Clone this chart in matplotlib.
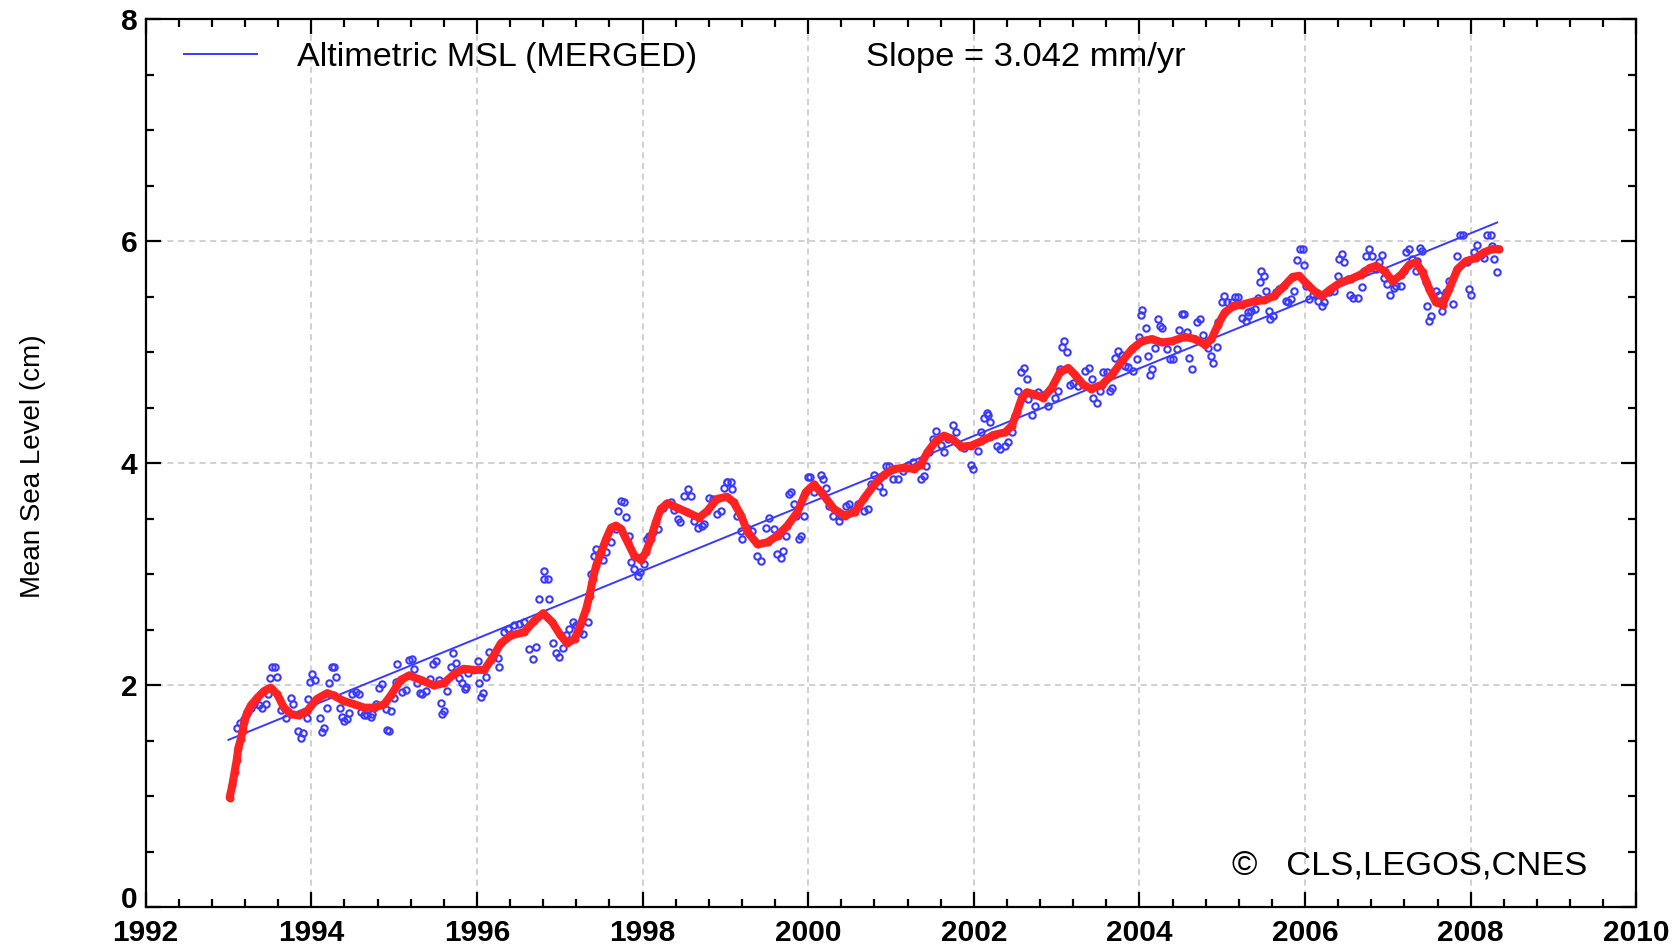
import numpy as np
import matplotlib
matplotlib.use("Agg")
import matplotlib.pyplot as plt
from matplotlib.lines import Line2D
from matplotlib.ticker import MultipleLocator
from matplotlib.transforms import ScaledTranslation

plt.rcParams['font.family'] = ['Liberation Sans', 'DejaVu Sans']

# -----------------------------
# DADOS
# -----------------------------

# pontos azuis (MSL altimétrico, ~ciclos de 10 dias)
blue_t = [
    1993.10, 1993.14, 1993.187, 1993.207, 1993.227, 1993.267, 1993.308, 1993.368, 1993.408, 1993.448,
    1993.477, 1993.497, 1993.529, 1993.561, 1993.581, 1993.638, 1993.69, 1993.758, 1993.783, 1993.843,
    1993.871, 1993.903, 1993.952, 1993.964, 1993.984, 1994.012, 1994.044,
    1994.105, 1994.133, 1994.153, 1994.185, 1994.213, 1994.254, 1994.274, 1994.294, 1994.346, 1994.374,
    1994.395, 1994.427, 1994.455, 1994.495, 1994.535, 1994.576, 1994.596, 1994.636, 1994.676, 1994.717,
    1994.737, 1994.777, 1994.817, 1994.858, 1994.898, 1994.918, 1994.938, 1994.958, 1994.998,
    1995.019, 1995.039, 1995.099, 1995.139, 1995.180, 1995.220, 1995.240, 1995.280, 1995.312, 1995.341,
    1995.381, 1995.433, 1995.473, 1995.502, 1995.542, 1995.562, 1995.582, 1995.602, 1995.643, 1995.683,
    1995.715, 1995.743, 1995.783, 1995.824, 1995.852, 1995.867, 1995.887,
    1996.008, 1996.028, 1996.048, 1996.068, 1996.109, 1996.149, 1996.189, 1996.249, 1996.27, 1996.33,
    1996.37, 1996.41, 1996.451, 1996.511, 1996.571, 1996.632, 1996.672, 1996.712, 1996.753, 1996.805,
    1996.813, 1996.853, 1996.873, 1996.913, 1996.954, 1996.994,
    1997.034, 1997.074, 1997.115, 1997.155, 1997.195, 1997.235, 1997.276, 1997.336, 1997.376, 1997.408,
    1997.437, 1997.477, 1997.517, 1997.557, 1997.618, 1997.678, 1997.706, 1997.738, 1997.771, 1997.799,
    1997.839, 1997.859, 1997.899, 1997.940, 1997.972,
    1998.02, 1998.052, 1998.08, 1998.121, 1998.181, 1998.241, 1998.282, 1998.342, 1998.382, 1998.423,
    1998.455, 1998.503, 1998.543, 1998.583, 1998.624, 1998.664, 1998.712, 1998.744, 1998.805, 1998.845,
    1998.905, 1998.946, 1998.986,
    1999.018, 1999.024, 1999.065, 1999.085, 1999.145, 1999.185, 1999.206, 1999.266, 1999.327, 1999.387,
    1999.427, 1999.488, 1999.528, 1999.589, 1999.629, 1999.669, 1999.702, 1999.73, 1999.77, 1999.79,
    1999.831, 1999.851, 1999.891, 1999.911, 1999.944, 1999.992,
    2000.024, 2000.073, 2000.153, 2000.173, 2000.214, 2000.254, 2000.294, 2000.375, 2000.395, 2000.456,
    2000.496, 2000.536, 2000.597, 2000.677, 2000.718, 2000.758, 2000.798, 2000.859, 2000.899, 2000.940,
    2000.980,
    2001.02, 2001.081, 2001.141, 2001.202, 2001.262, 2001.302, 2001.363, 2001.403, 2001.423, 2001.464,
    2001.504, 2001.544, 2001.605, 2001.645, 2001.685, 2001.746, 2001.786, 2001.847, 2001.887, 2001.968,
    2001.988,
    2002.048, 2002.089, 2002.129, 2002.156, 2002.169, 2002.196, 2002.217, 2002.277, 2002.317, 2002.378,
    2002.418, 2002.458, 2002.498, 2002.539, 2002.571, 2002.611, 2002.639, 2002.659, 2002.700, 2002.740,
    2002.780, 2002.841, 2002.901, 2002.981,
    2003.022, 2003.042, 2003.062, 2003.094, 2003.122, 2003.163, 2003.203, 2003.263, 2003.344, 2003.392,
    2003.424, 2003.444, 2003.485, 2003.525, 2003.565, 2003.605, 2003.646, 2003.666, 2003.706, 2003.738,
    2003.787, 2003.827, 2003.867, 2003.928, 2003.968, 2003.996,
    2004.016, 2004.036, 2004.076, 2004.109, 2004.129, 2004.149, 2004.189, 2004.221, 2004.25, 2004.27,
    2004.33, 2004.37, 2004.411, 2004.451, 2004.479, 2004.519, 2004.543, 2004.572, 2004.60, 2004.632,
    2004.692, 2004.733, 2004.773, 2004.825, 2004.866, 2004.894, 2004.934, 2004.954,
    2005.002, 2005.023, 2005.063, 2005.115, 2005.155, 2005.188, 2005.236, 2005.284, 2005.309, 2005.316,
    2005.349, 2005.390, 2005.43, 2005.45, 2005.47, 2005.502, 2005.53, 2005.57, 2005.582, 2005.61,
    2005.651, 2005.691, 2005.711, 2005.771, 2005.791, 2005.831, 2005.863, 2005.904, 2005.944, 2005.972,
    2005.992,
    2006.012, 2006.052, 2006.092, 2006.153, 2006.201, 2006.233, 2006.293, 2006.345, 2006.394, 2006.414,
    2006.442, 2006.474, 2006.514, 2006.546, 2006.574, 2006.635, 2006.683, 2006.715, 2006.735, 2006.775,
    2006.807, 2006.855, 2006.896, 2006.924, 2006.956, 2006.988,
    2007.028, 2007.068, 2007.096, 2007.157, 2007.189, 2007.217, 2007.257, 2007.297, 2007.337, 2007.357,
    2007.39, 2007.418, 2007.458, 2007.478, 2007.498, 2007.526, 2007.578, 2007.618, 2007.659, 2007.699,
    2007.739, 2007.791, 2007.839, 2007.871, 2007.912, 2007.952, 2007.98,
    2008.0, 2008.04, 2008.08, 2008.12, 2008.161, 2008.201, 2008.241, 2008.261, 2008.281, 2008.321,
]
blue_v = [
    1.62, 1.66, 1.70, 1.73, 1.76, 1.80, 1.83, 1.82, 1.80, 1.83,
    1.92, 2.07, 2.17, 2.17, 2.08, 1.78, 1.71, 1.89, 1.83, 1.59,
    1.53, 1.57, 1.71, 1.88, 2.03, 2.10, 2.05,
    1.71, 1.58, 1.62, 1.80, 2.02, 2.17, 2.17, 2.08, 1.80, 1.72,
    1.68, 1.70, 1.75, 1.92, 1.94, 1.92, 1.76, 1.73, 1.73, 1.72,
    1.74, 1.83, 1.98, 2.01, 1.79, 1.60, 1.59, 1.77, 1.89,
    2.03, 2.19, 1.94, 1.96, 2.23, 2.24, 2.15, 2.02, 1.93, 1.92,
    1.95, 2.06, 2.19, 2.22, 2.05, 1.84, 1.74, 1.77, 1.95, 2.17,
    2.29, 2.20, 2.07, 2.02, 1.97, 1.99, 2.11,
    2.22, 2.02, 1.90, 1.93, 2.08, 2.30, 2.26, 2.25, 2.17, 2.48,
    2.51, 2.46, 2.54, 2.55, 2.57, 2.33, 2.24, 2.35, 2.78, 2.96,
    3.03, 2.96, 2.78, 2.38, 2.29, 2.26,
    2.34, 2.45, 2.51, 2.57, 2.54, 2.48, 2.46, 2.57, 3.00, 3.17,
    3.23, 3.18, 3.13, 3.20, 3.29, 3.41, 3.57, 3.66, 3.65, 3.52,
    3.35, 3.11, 3.05, 2.99, 3.02,
    3.09, 3.32, 3.35, 3.38, 3.41, 3.60, 3.63, 3.65, 3.58, 3.50,
    3.47, 3.71, 3.77, 3.71, 3.48, 3.42, 3.44, 3.45, 3.69, 3.68,
    3.54, 3.57, 3.78,
    3.83, 3.83, 3.83, 3.77, 3.53, 3.39, 3.32, 3.42, 3.39, 3.17,
    3.12, 3.42, 3.51, 3.41, 3.18, 3.15, 3.21, 3.35, 3.72, 3.74,
    3.63, 3.53, 3.32, 3.35, 3.53, 3.88,
    3.88, 3.74, 3.90, 3.86, 3.78, 3.62, 3.53, 3.48, 3.53, 3.62,
    3.63, 3.57, 3.63, 3.57, 3.59, 3.81, 3.90, 3.80, 3.74, 3.98,
    3.98,
    3.86, 3.86, 3.93, 3.99, 4.01, 3.98, 3.86, 3.89, 3.98, 4.10,
    4.22, 4.29, 4.17, 4.10, 4.22, 4.35, 4.28, 4.16, 4.14, 3.99,
    3.95,
    4.11, 4.28, 4.41, 4.45, 4.44, 4.37, 4.26, 4.16, 4.13, 4.16,
    4.19, 4.28, 4.43, 4.65, 4.82, 4.86, 4.76, 4.58, 4.44, 4.52,
    4.64, 4.62, 4.52, 4.59,
    4.65, 4.85, 5.05, 5.10, 5.00, 4.71, 4.72, 4.70, 4.83, 4.86,
    4.76, 4.59, 4.54, 4.65, 4.82, 4.82, 4.65, 4.68, 4.95, 5.01,
    4.98, 4.88, 4.87, 4.83, 4.94, 5.14,
    5.34, 5.38, 5.22, 4.97, 4.80, 4.85, 5.04, 5.30, 5.24, 5.22,
    5.03, 4.94, 4.94, 5.03, 5.20, 5.35, 5.35, 5.18, 4.95, 4.85,
    5.27, 5.30, 5.16, 5.04, 4.97, 4.90, 5.05, 5.27,
    5.45, 5.51, 5.45, 5.45, 5.50, 5.50, 5.31, 5.28, 5.36, 5.33,
    5.37, 5.39, 5.49, 5.63, 5.73, 5.69, 5.55, 5.37, 5.30, 5.33,
    5.54, 5.57, 5.58, 5.46, 5.45, 5.48, 5.55, 5.83, 5.93, 5.93,
    5.79,
    5.60, 5.48, 5.52, 5.46, 5.42, 5.45, 5.54, 5.55, 5.69, 5.84,
    5.89, 5.81, 5.66, 5.52, 5.49, 5.49, 5.59, 5.73, 5.87, 5.93,
    5.87, 5.75, 5.81, 5.88, 5.67, 5.62,
    5.52, 5.58, 5.60, 5.60, 5.73, 5.90, 5.93, 5.84, 5.73, 5.82,
    5.94, 5.91, 5.63, 5.42, 5.28, 5.33, 5.55, 5.52, 5.37, 5.54,
    5.64, 5.44, 5.87, 6.06, 6.06, 5.81, 5.57,
    5.52, 5.90, 5.97, 5.88, 5.85, 6.06, 6.06, 5.96, 5.84, 5.72,
]

# curva suavizada (vermelha)
red_t = [
    1993.014, 1993.046, 1993.074, 1993.10, 1993.12, 1993.15, 1993.17, 1993.19, 1993.23, 1993.27,
    1993.35, 1993.43, 1993.51, 1993.59, 1993.67, 1993.76, 1993.85, 1993.95,
    1994.07, 1994.19, 1994.27, 1994.39, 1994.52, 1994.64, 1994.76, 1994.88, 1994.96,
    1995.08, 1995.18, 1995.32, 1995.48, 1995.60, 1995.72, 1995.84, 1995.97,
    1996.09, 1996.17, 1996.29, 1996.41, 1996.57, 1996.69, 1996.80, 1996.91,
    1997.01, 1997.09, 1997.18, 1997.25, 1997.32, 1997.36, 1997.40, 1997.44, 1997.50, 1997.56,
    1997.62, 1997.68, 1997.74, 1997.82, 1997.90, 1997.98,
    1998.04, 1998.10, 1998.16, 1998.22, 1998.30, 1998.42, 1998.54, 1998.68, 1998.78, 1998.90,
    1999.02, 1999.10, 1999.19, 1999.27, 1999.39, 1999.51, 1999.63, 1999.75, 1999.87, 1999.97,
    2000.07, 2000.19, 2000.31, 2000.44, 2000.56, 2000.68, 2000.80, 2000.92,
    2001.04, 2001.16, 2001.28, 2001.36, 2001.44, 2001.54, 2001.64, 2001.74, 2001.85, 2001.97,
    2002.09, 2002.20, 2002.26, 2002.38, 2002.46, 2002.52, 2002.58, 2002.64, 2002.74, 2002.84, 2002.94,
    2003.04, 2003.14, 2003.22, 2003.32, 2003.42, 2003.55, 2003.67, 2003.79, 2003.91,
    2004.03, 2004.15, 2004.27, 2004.39, 2004.55, 2004.67, 2004.79, 2004.87, 2004.95,
    2005.03, 2005.14, 2005.24, 2005.39, 2005.51, 2005.63, 2005.75, 2005.85, 2005.93,
    2006.03, 2006.13, 2006.21, 2006.31, 2006.43, 2006.55, 2006.67, 2006.78, 2006.86, 2006.96,
    2007.06, 2007.16, 2007.26, 2007.34, 2007.42, 2007.50, 2007.58, 2007.66, 2007.74, 2007.84, 2007.94,
    2008.06, 2008.16, 2008.26, 2008.34,
]
red_v = [
    0.99, 1.10, 1.22, 1.33, 1.44, 1.52, 1.59, 1.67, 1.76, 1.82,
    1.89, 1.95, 1.98, 1.92, 1.80, 1.74, 1.73, 1.77,
    1.88, 1.93, 1.91, 1.86, 1.83, 1.80, 1.80, 1.83, 1.91,
    2.05, 2.09, 2.05, 2.00, 2.02, 2.10, 2.15, 2.14,
    2.14, 2.23, 2.38, 2.45, 2.48, 2.58, 2.65, 2.57,
    2.45, 2.38, 2.42, 2.54, 2.69, 2.81, 2.96, 3.08, 3.20, 3.32,
    3.42, 3.44, 3.41, 3.29, 3.17, 3.13,
    3.20, 3.32, 3.47, 3.59, 3.64, 3.60, 3.56, 3.51, 3.57, 3.68,
    3.70, 3.65, 3.53, 3.38, 3.27, 3.29, 3.35, 3.44, 3.56, 3.74,
    3.81, 3.71, 3.59, 3.53, 3.56, 3.69, 3.81, 3.90,
    3.95, 3.96, 3.95, 3.99, 4.10, 4.20, 4.25, 4.22, 4.15, 4.16,
    4.20, 4.24, 4.26, 4.28, 4.34, 4.46, 4.59, 4.64, 4.62, 4.59, 4.68,
    4.82, 4.86, 4.80, 4.71, 4.67, 4.71, 4.80, 4.92, 5.03,
    5.10, 5.12, 5.09, 5.10, 5.14, 5.12, 5.07, 5.12, 5.25,
    5.36, 5.42, 5.43, 5.46, 5.47, 5.51, 5.60, 5.68, 5.69,
    5.61, 5.54, 5.51, 5.57, 5.63, 5.66, 5.70, 5.76, 5.78, 5.73,
    5.64, 5.70, 5.79, 5.81, 5.72, 5.57, 5.45, 5.43, 5.57, 5.75, 5.82,
    5.85, 5.90, 5.93, 5.93,
]

# reta de tendência (3.042 mm/ano)
trend_t = [1993.0, 2008.32]
trend_v = [1.51, 6.17]

azul = '#3a3aff'
vermelho = '#ff2222'

# -----------------------------
# GRÁFICO
# -----------------------------

fig = plt.figure(figsize=(16.8, 9.46), dpi=100)
ax = fig.add_axes([0.0867, 0.0407, 0.8873, 0.9389])

ax.plot(blue_t, blue_v, linestyle='none', marker='o', markersize=4.6,
        markerfacecolor='none', markeredgecolor=azul, markeredgewidth=1.5, zorder=3)
ax.plot(trend_t, trend_v, color=azul, linewidth=1.4, zorder=4)
ax.plot(red_t, red_v, color=vermelho, linewidth=5.8, marker='o', markersize=5.8,
        markeredgewidth=0, solid_capstyle='round', solid_joinstyle='round', zorder=5)

ax.set_xlim(1992, 2010)
ax.set_ylim(0, 8)
ax.xaxis.set_major_locator(MultipleLocator(2))
ax.xaxis.set_minor_locator(MultipleLocator(0.4))
ax.yaxis.set_major_locator(MultipleLocator(2))
ax.yaxis.set_minor_locator(MultipleLocator(0.5))

ax.tick_params(which='both', direction='in', top=True, right=True, width=1.6, color='black')
ax.tick_params(which='major', length=11)
ax.tick_params(which='minor', length=6)
ax.tick_params(axis='x', which='major', labelsize=21.5, pad=8)
ax.tick_params(axis='y', which='major', labelsize=21.5, pad=6)
for s in ax.spines.values():
    s.set_linewidth(1.6)

ax.grid(True, which='major', color='#c4c4c4', linestyle=(0, (4, 3)), linewidth=1.1)
ax.set_axisbelow(True)

fig.text(0.0196, 0.507, 'Mean Sea Level (cm)', rotation=90, ha='center', va='center', fontsize=20)

leg = ax.legend([Line2D([0], [0], color=azul, linewidth=1.4)], ['Altimetric MSL (MERGED)'],
                loc='center left', bbox_to_anchor=(0.0257, 0.9575), frameon=False,
                fontsize=24.6, handlelength=2.15, handletextpad=1.15, borderpad=0, borderaxespad=0)

ax.text(0.4833, 0.9479, 'Slope = 3.042 mm/yr', transform=ax.transAxes,
        ha='left', va='baseline', fontsize=24.8)
ax.text(0.7289, 0.0372, '\u00a9   CLS,LEGOS,CNES', transform=ax.transAxes,
        ha='left', va='baseline', fontsize=24.8)

# fixa os rótulos depois de um desenho e sobe o "0" para não encostar no "1992"
fig.canvas.draw()
for lab in ax.get_xticklabels() + ax.get_yticklabels():
    lab.set_fontweight('bold')
for tick in ax.yaxis.get_major_ticks():
    if tick.get_loc() == 0:
        tick.label1.set_transform(tick.label1.get_transform()
                                  + ScaledTranslation(0, 10 / 100, fig.dpi_scale_trans))

fig.savefig('out.png', dpi=100)
